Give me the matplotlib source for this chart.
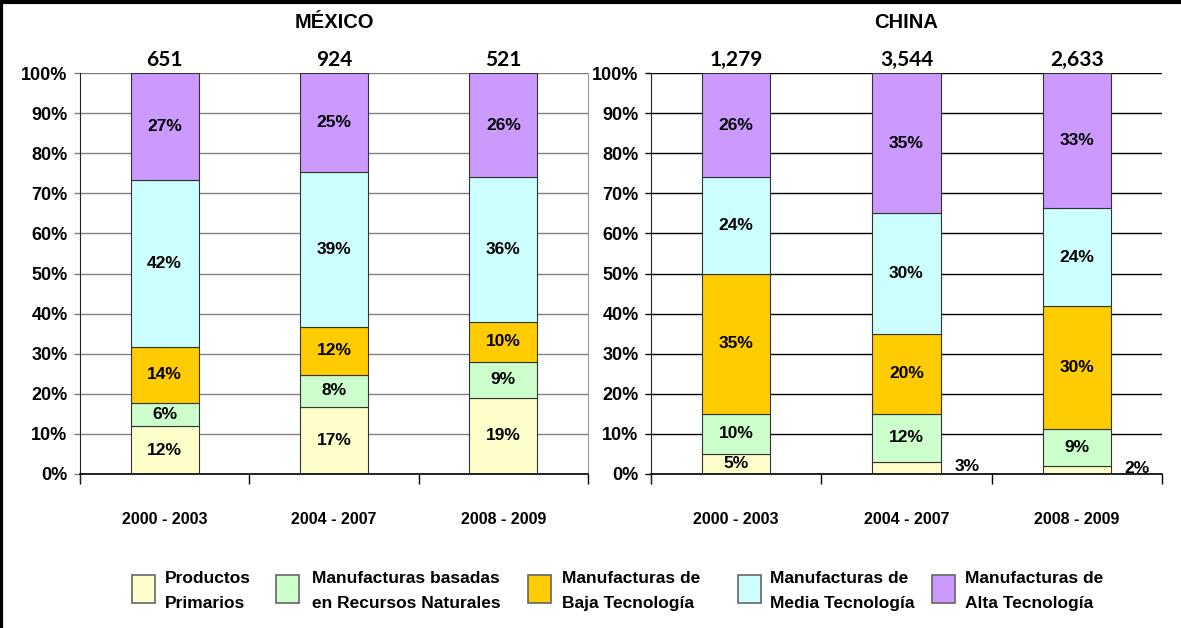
import matplotlib
matplotlib.use('Agg')
import matplotlib.pyplot as plt
import numpy as np
from matplotlib.patches import Rectangle
from matplotlib.lines import Line2D

# fuentes (no hay Arial Narrow, se ajusta el tamaño al ancho)
plt.rcParams['font.family'] = ['Liberation Sans', 'DejaVu Sans']

# datos
periodos = ['2000 - 2003', '2004 - 2007', '2008 - 2009']
categorias = ['Productos\nPrimarios', 'Manufacturas basadas\nen Recursos Naturales',
              'Manufacturas de\nBaja Tecnología', 'Manufacturas de\nMedia Tecnología',
              'Manufacturas de\nAlta Tecnología']
colores = ['#FFFFCC', '#CCFFCC', '#FFCC00', '#CCFFFF', '#CC99FF']

mexico_total = ['651', '924', '521']
mexico_primarios = [12, 17, 19]
mexico_recursos = [6, 8, 9]
mexico_baja = [14, 12, 10]
mexico_media = [42, 39, 36]
mexico_alta = [27, 25, 26]

china_total = ['1,279', '3,544', '2,633']
china_primarios = [5, 3, 2]
china_recursos = [10, 12, 9]
china_baja = [35, 20, 30]
china_media = [24, 30, 24]
china_alta = [26, 35, 33]


def draw_panel(ax, series, totales, titulo, grid_color, right_spine):
    datos = np.array(series, dtype=float)
    shares = datos / datos.sum(axis=0) * 100
    x = np.arange(len(periodos))
    base = np.zeros(len(periodos))
    for k in range(len(series)):
        ax.bar(x, shares[k], 0.4, bottom=base, color=colores[k],
               edgecolor='#333333', linewidth=0.8, zorder=2)
        for i in range(len(periodos)):
            val = datos[k][i]
            yc = base[i] + shares[k][i] / 2
            if val < 4 and k == 0 and i > 0:
                # etiquetas pequeñas fuera de la barra
                ax.text(x[i] + 0.28, yc + 0.3, f'{int(val)}%', ha='left', va='center',
                        fontsize=12.5, fontweight='bold', zorder=3)
            else:
                ax.text(x[i], yc, f'{int(val)}%', ha='center', va='center',
                        fontsize=12.5, fontweight='bold', zorder=3)
        base += shares[k]
    for i in range(len(periodos)):
        ax.text(x[i], 103.3, totales[i], ha='center', va='center', fontsize=15,
                fontweight='bold', family='Lato', clip_on=False)

    ax.set_xlim(-0.5, 2.5)
    ax.set_ylim(0, 100)
    ax.set_yticks(np.arange(0, 101, 10))
    ax.set_yticklabels([f'{v}%' for v in range(0, 101, 10)], fontsize=13, fontweight='bold')
    ax.set_xticks(x)
    ax.set_xticklabels(periodos, fontsize=11.5, fontweight='bold')
    ax.set_xticks([-0.5, 0.5, 1.5, 2.5], minor=True)
    ax.tick_params(axis='x', which='major', length=0, pad=27)
    ax.tick_params(axis='x', which='minor', length=7, width=1, color='black')
    ax.tick_params(axis='y', length=4, width=1, pad=5, color=grid_color)
    ax.yaxis.grid(True, color=grid_color, linewidth=1)
    ax.set_axisbelow(True)
    ax.spines['top'].set_visible(False)
    ax.spines['right'].set_visible(right_spine)
    ax.spines['right'].set_color('#999999')
    ax.spines['left'].set_color('#222222')
    ax.spines['bottom'].set_color('black')
    ax.spines['bottom'].set_linewidth(1.2)
    ax.spines['left'].set_bounds(-2.0, 100)
    ax.text(0.5, 1.125, titulo, transform=ax.transAxes, ha='center', va='center',
            fontsize=14.5, fontweight='bold')


W, H = 1181, 628
fig = plt.figure(figsize=(W / 100, H / 100), dpi=100)
ax1 = fig.add_axes([80 / W, 1 - 474 / H, 508 / W, 401 / H])
ax2 = fig.add_axes([651 / W, 1 - 474 / H, 511 / W, 401 / H])

draw_panel(ax1, [mexico_primarios, mexico_recursos, mexico_baja, mexico_media, mexico_alta],
           mexico_total, 'MÉXICO', '#808080', True)
draw_panel(ax2, [china_primarios, china_recursos, china_baja, china_media, china_alta],
           china_total, 'CHINA', 'black', False)

# leyenda manual
patch_x = [132, 276, 528, 738, 932]
text_x = [165, 312, 562, 770, 965]
for k in range(len(categorias)):
    fig.patches.append(Rectangle((patch_x[k] / W, 1 - 603 / H), 23 / W, 28 / H,
                                 transform=fig.transFigure, facecolor=colores[k],
                                 edgecolor='#666666', linewidth=1.2))
    fig.text(text_x[k] / W, 1 - 591 / H, categorias[k], ha='left', va='center',
             fontsize=12.5, fontweight='bold', linespacing=1.8)

# marco
fig.add_artist(Line2D([1.5 / W, 1.5 / W], [0, 1], color='black', linewidth=3))
fig.add_artist(Line2D([0, 1], [1 - 1.5 / H, 1 - 1.5 / H], color='black', linewidth=3))

fig.savefig('out.png', dpi=100)
